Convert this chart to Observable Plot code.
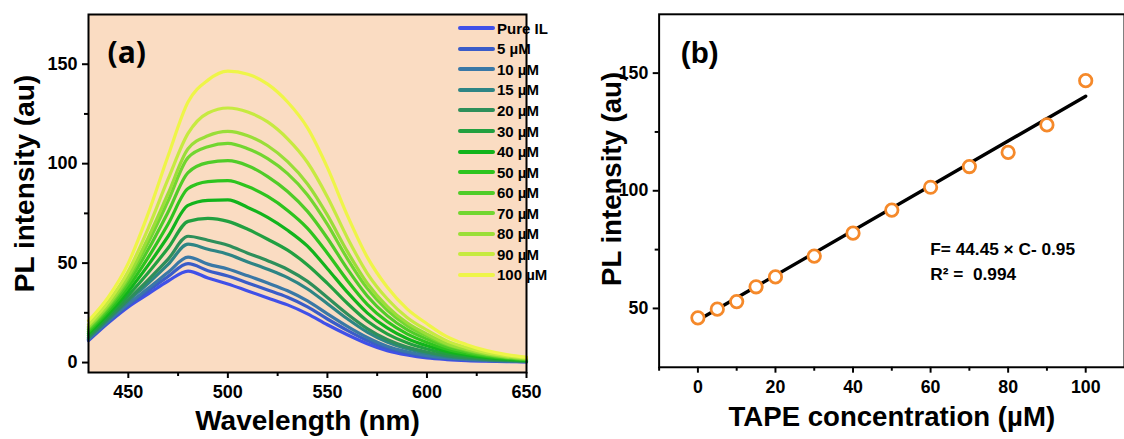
<!DOCTYPE html>
<html><head><meta charset="utf-8">
<script src="https://cdn.jsdelivr.net/npm/d3@7"></script>
<script src="https://cdn.jsdelivr.net/npm/@observablehq/plot@0.6"></script>
<style>
html,body{margin:0;padding:0;background:#fff;}
#wrap{position:relative;width:1124px;height:439px;overflow:hidden;font-family:"Liberation Sans",Arial,sans-serif;}
#pa{position:absolute;left:0;top:0;}
#pb{position:absolute;left:562px;top:0;}
#legend{position:absolute;left:458px;top:18px;font-weight:bold;font-size:15px;color:#000;}
.row{display:flex;align-items:center;height:20.56px;white-space:nowrap;}
.sw{width:37px;height:4px;border-radius:2px;margin-right:2px;}
</style></head><body>
<div id="wrap"><div id="pa"></div><div id="pb"></div><div id="legend"></div></div>
<script>
// ---------- Panel (a) data ----------
const wavelengths = [430,440,450,460,470,480,490,500,510,520,530,540,550,560,570,580,590,600,610,620,630,640,650];
const seriesNames = ["Pure IL","5 µM","10 µM","15 µM","20 µM","30 µM","40 µM","50 µM","60 µM","70 µM","80 µM","90 µM","100 µM"];
const seriesColors = ["#4050e8","#3a5cc8","#3a78a6","#2e8585","#2e8f5a","#22a040","#12b41c","#2ec41e","#50cc28","#72d630","#9ade38","#c6ea40","#eef548"];
const pureIL = [11,20,28,34.5,41,46,42.5,39.5,36,32.5,29,24.5,19,14,9.5,6,3.8,2.3,1.5,1,0.7,0.5,0.3];
const c5   = [11.4,20.5,28.8,36.0,43.3,49.7,46.2,43.5,40.0,36.5,32.8,28.0,21.9,16.2,11.1,7.2,4.7,2.9,1.9,1.3,0.9,0.6,0.4];
const c10  = [11.7,20.9,29.5,37.3,45.4,53.0,49.5,47.0,43.6,40.0,36.1,31.0,24.5,18.2,12.6,8.2,5.4,3.5,2.3,1.6,1.1,0.75,0.5];
const c15  = [12.3,21.7,31.0,39.9,49.4,59.5,57.0,54.5,50.6,46.9,42.7,37.0,29.6,22.0,15.3,10.3,6.9,4.6,3.0,2.1,1.4,1.0,0.6];
const c20  = [12.7,22.3,31.8,41.6,52.0,63.5,61.5,59.0,55.0,51.2,46.8,40.8,32.7,24.4,17.1,11.6,7.8,5.3,3.5,2.4,1.6,1.1,0.7];
const c30  = [13.6,23.4,33.8,45.2,57.6,71.0,72.5,71.0,67.0,62.0,56.5,49.1,39.8,29.8,20.9,14.4,9.9,6.8,4.5,3.1,2.1,1.4,0.9];
const c40  = [14.6,24.6,35.9,49.0,63.5,79.0,81.5,81.8,78.0,73.0,66.5,58.5,47.2,35.4,25.0,17.4,12.1,8.4,5.6,3.9,2.6,1.8,1.2];
const c50  = [15.6,25.9,38.0,52.9,69.7,87.5,91.0,91.5,88.5,83.5,76.5,67.5,55.0,41.3,29.3,20.6,14.4,10.1,6.7,4.6,3.1,2.1,1.4];
const c60  = [16.5,27.2,40.1,56.8,75.7,95.5,100.5,101.5,99.0,93.5,86.0,76.0,62.5,47.1,33.5,23.6,16.6,11.8,7.8,5.4,3.6,2.4,1.6];
const c70  = [17.4,28.3,42.1,60.4,81.3,103.0,108.5,110.2,107.5,102.5,95.0,84.3,69.5,52.3,37.3,26.4,18.6,13.3,8.9,6.1,4.1,2.7,1.8];
const c80  = [18.0,29.1,43.4,62.8,85.0,107.5,114.0,116.2,114.0,109.0,101.0,89.8,74.1,55.9,39.9,28.3,20.0,14.3,9.5,6.6,4.4,2.9,2.0];
const c90  = [19.1,30.6,45.9,67.5,92.3,115.2,125.5,128.0,126.0,121.0,112.5,100.6,83.3,62.8,44.9,32.1,22.7,16.3,10.9,7.5,5.0,3.4,2.3];
const c100 = [21,33,50,75,104,131,142,146.5,145,140,131,118,98,74,53,38,27,19.5,13,9,6,4,2.7];
const spectra = [pureIL,c5,c10,c15,c20,c30,c40,c50,c60,c70,c80,c90,c100];

// ---------- Panel (b) data ----------
const concentrations = [0,5,10,15,20,30,40,50,60,70,80,90,100];
const peakIntensity = [46,49.7,52.9,59.2,63.4,72.2,82,91.8,101.5,110.3,116.3,128,146.8];
const fitX = [0,100];
const fitY = [45,140.2];

// tick values
const aTicksX = [450,500,550,600,650], aMinorX = [475,525,575,625];
const aTicksY = [0,50,100,150], aMinorY = [25,75,125];
const bTicksX = [0,20,40,60,80,100], bMinorX = [-10,10,30,50,70,90];
const bTicksY = [50,100,150], bMinorY = [75,125];

const rows = [];
seriesNames.forEach((s,i)=>wavelengths.forEach((w,j)=>rows.push({series:s,wl:w,v:spectra[i][j]})));
const pts = concentrations.map((c,i)=>({c,v:peakIntensity[i]}));
const fit = fitX.map((x,i)=>({c:x,v:fitY[i]}));

const style = {fontFamily:"Liberation Sans, Arial, sans-serif",fontWeight:"bold",fontSize:"18px",color:"#000",background:"transparent",overflow:"visible"};
const T = d=>d;

const plotA = Plot.plot({
  width:562,height:439,marginLeft:88,marginRight:36,marginTop:14,marginBottom:67,
  x:{domain:[430,650]}, y:{domain:[-5,175]},
  color:{domain:seriesNames,range:seriesColors},
  style,
  marks:[
    Plot.frame({fill:"#fadcc2",stroke:null}),
    Plot.line(rows,{x:"wl",y:"v",z:"series",stroke:"series",strokeWidth:3.2,curve:"monotone-x"}),
    Plot.axisX({ticks:aTicksX,tickSize:6,tickPadding:7,strokeWidth:2,label:null,tickFormat:d=>String(d)}),
    Plot.axisX({ticks:aMinorX,tickSize:4,strokeWidth:2,label:null,tickFormat:()=>""}),
    Plot.axisY({ticks:aTicksY,tickSize:6,tickPadding:5,strokeWidth:2,label:null,tickFormat:d=>String(d)}),
    Plot.axisY({ticks:aMinorY,tickSize:4,strokeWidth:2,label:null,tickFormat:()=>""}),
    Plot.frame({stroke:"#000",strokeWidth:2}),
    Plot.text(["(a)"],{text:T,frameAnchor:"top-left",textAnchor:"start",lineAnchor:"top",dx:19,dy:27,fontSize:30,fontFamily:"Open Sans",fontWeight:"bold"}),
    Plot.text(["PL intensity (au)"],{text:T,frameAnchor:"left",textAnchor:"middle",lineAnchor:"middle",rotate:-90,dx:-63,dy:-10,fontSize:28}),
    Plot.text(["Wavelength (nm)"],{text:T,frameAnchor:"bottom",textAnchor:"middle",lineAnchor:"middle",dy:49,fontSize:28})
  ]
});
document.getElementById("pa").appendChild(plotA);

const plotB = Plot.plot({
  width:570,height:439,marginLeft:98,marginRight:0,marginTop:14,marginBottom:67,
  x:{domain:[-10,110]}, y:{domain:[25,175]},
  style,
  marks:[
    Plot.axisX({ticks:bTicksX,tickSize:6,tickPadding:7,strokeWidth:2,label:null,tickFormat:d=>String(d)}),
    Plot.axisX({ticks:bMinorX,tickSize:4,strokeWidth:2,label:null,tickFormat:()=>""}),
    Plot.axisY({ticks:bTicksY,tickSize:6,tickPadding:5,strokeWidth:2,label:null,tickFormat:d=>String(d)}),
    Plot.axisY({ticks:bMinorY,tickSize:4,strokeWidth:2,label:null,tickFormat:()=>""}),
    Plot.line(fit,{x:"c",y:"v",stroke:"#000",strokeWidth:3.4}),
    Plot.dot(pts,{x:"c",y:"v",r:6.3,stroke:"#f5892a",strokeWidth:2.8,fill:"#fff"}),
    Plot.frame({stroke:"#000",strokeWidth:2}),
    Plot.text(["(b)"],{text:T,frameAnchor:"top-left",textAnchor:"start",lineAnchor:"top",dx:22,dy:28,fontSize:30,fontWeight:"bold"}),
    Plot.text(["F= 44.45 × C- 0.95"],{text:T,frameAnchor:"top-left",textAnchor:"start",lineAnchor:"middle",dx:275,dy:239,fontSize:17.5}),
    Plot.text(["R² =  0.994"],{text:T,frameAnchor:"top-left",textAnchor:"start",lineAnchor:"middle",dx:275,dy:264,fontSize:17.5}),
    Plot.text(["PL intensity (au)"],{text:T,frameAnchor:"left",textAnchor:"middle",lineAnchor:"middle",rotate:-90,dx:-48,dy:-12,fontSize:28}),
    Plot.text(["TAPE concentration (µM)"],{text:T,frameAnchor:"bottom",textAnchor:"middle",lineAnchor:"middle",dy:51,fontSize:28})
  ]
});
document.getElementById("pb").appendChild(plotB);

// legend (inside panel a)
const lg = d3.select("#legend");
seriesNames.forEach((s,i)=>{
  const r = lg.append("div").attr("class","row");
  r.append("div").attr("class","sw").style("background",seriesColors[i]);
  r.append("span").text(s);
});
</script></body></html>
